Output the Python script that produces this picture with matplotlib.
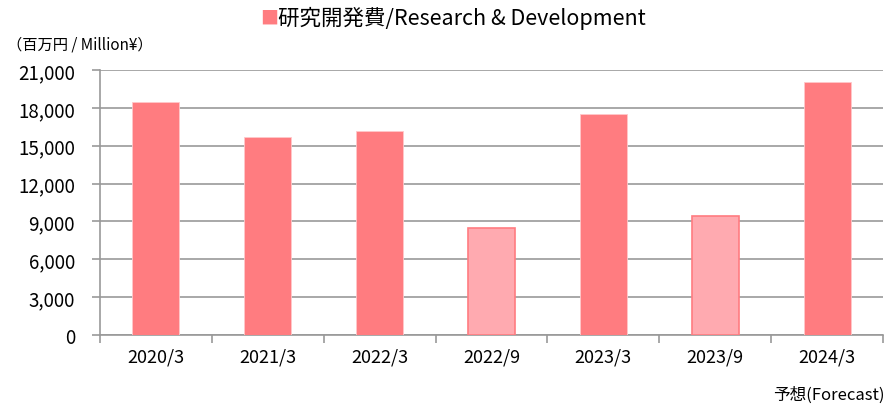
import matplotlib as mpl
from matplotlib import pyplot as plt
from matplotlib.ticker import FuncFormatter, FixedLocator

plt.rcParams['font.family'] = ['Noto Sans CJK JP', 'DejaVu Sans']

periods = ['2020/3', '2021/3', '2022/3', '2022/9', '2023/3', '2023/9', '2024/3']
rd_cost = [18450, 15700, 16150, 8450, 17550, 9400, 20050]  ## million yen
half_year = [False, False, False, True, False, True, False]  ## interim periods drawn lighter

dark = '#FF7C80'
light = '#FFAAB0'

fig = plt.figure(figsize=(8.87, 4.06), dpi=100, facecolor='w')
ax = fig.add_axes([100/887, 1-336/406, 783/887, 265/406])

xs = list(range(len(periods)))
for x, v, h in zip(xs, rd_cost, half_year):
    if h:
        ax.bar(x, v, width=0.42, color=light, edgecolor=dark, linewidth=1.2, zorder=3)
    else:
        ax.bar(x, v, width=0.42, color=dark, edgecolor='#FFC8CA', linewidth=0.6, zorder=3)

ax.set_xlim(-0.5, len(periods)-0.5)
ax.set_ylim(0, 21000)
ax.set_yticks(range(0, 21001, 3000))
ax.yaxis.set_major_formatter(FuncFormatter(lambda v, p: f'{int(v):,}'))
ax.yaxis.grid(True, color='#999999', linewidth=1.2, zorder=0)

ax.set_xticks(xs)
ax.set_xticklabels(periods, fontsize=13)
ax.xaxis.set_minor_locator(FixedLocator([i-0.5 for i in range(len(periods)+1)]))
ax.tick_params(axis='x', which='major', length=0, pad=9)
ax.tick_params(axis='x', which='minor', length=6, color='#999999', width=1.2)
ax.tick_params(axis='y', length=6, color='#999999', width=1.2, labelsize=13.5, pad=12)

[ax.spines[loc].set_visible(False) for loc in ['top', 'right']]
for loc in ['left', 'bottom']:
    ax.spines[loc].set_color('#999999')
    ax.spines[loc].set_linewidth(1.2)

fig.text(0.293, 0.955, '■', color=dark, fontsize=13, ha='left', va='center')
fig.text(0.313, 0.955, '研究開発費/Research & Development', fontsize=15.5, ha='left', va='center')
fig.text(0.008, 0.888, '（百万円 / Million¥）', fontsize=11, ha='left', va='center')
fig.text(0.997, 0.027, '予想(Forecast)', fontsize=12, ha='right', va='center')

fig.savefig('out.png', dpi=100, facecolor='w')
